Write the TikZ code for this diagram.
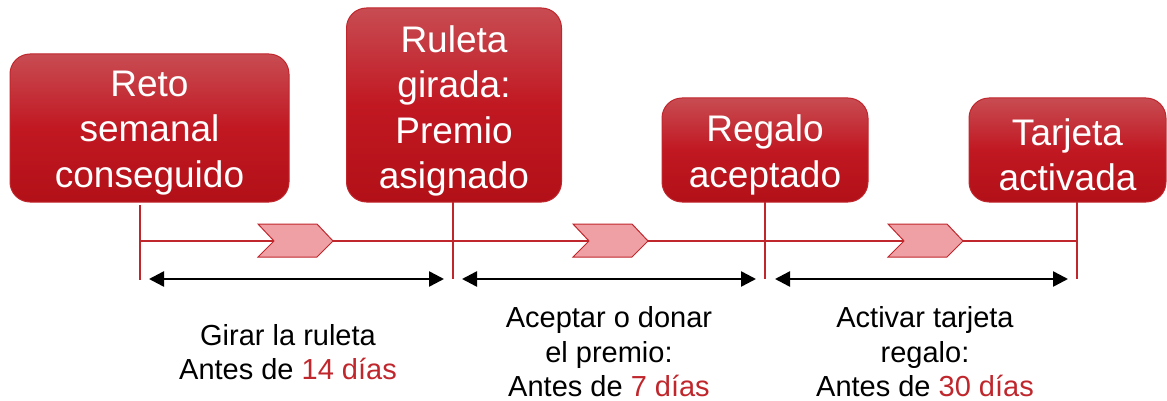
\documentclass[tikz,border=0pt]{standalone}
\usepackage{fontspec}
\setmainfont{Liberation Sans}
\usetikzlibrary{arrows.meta}
\definecolor{lred}{RGB}{192,39,45}
\definecolor{chev}{RGB}{238,160,164}
\definecolor{btop}{RGB}{200,76,82}
\definecolor{bmid}{RGB}{193,24,34}
\definecolor{bbot}{RGB}{178,16,24}
\tikzset{
  evbox/.style={rounded corners=20pt, draw=lred, line width=1pt, top color=btop, bottom color=bbot, middle color=bmid, inner sep=0pt},
  evtext/.style={text=white, align=center, inner sep=0pt, font=\fontsize{37}{45.5}\selectfont},
  tline/.style={draw=lred, line width=2pt},
  span/.style={{Triangle[length=15pt,width=15pt]}-{Triangle[length=15pt,width=15pt]}, line width=2.5pt, black},
  lbl/.style={align=center, font=\fontsize{29}{34.5}\selectfont, inner sep=0pt},
  chevshape/.style={fill=chev, draw=lred, line width=1pt, line join=miter}
}
\newcommand{\rd}[1]{\textcolor{lred}{#1}}
\begin{document}
\begin{tikzpicture}[x=1pt,y=-1pt]
\useasboundingbox (0,0) rectangle (1167,401);
% boxes
\node[evbox, minimum width=279pt, minimum height=148pt] (e1) at (149.5,128) {};
\node[evbox, minimum width=215pt, minimum height=194pt] (e2) at (454,105) {};
\node[evbox, minimum width=206pt, minimum height=104pt] (e3) at (765,150) {};
\node[evbox, minimum width=197pt, minimum height=104pt] (e4) at (1067.5,150) {};
\node[evtext] (e1t) at ([yshift=-5pt]e1.center) {Reto\\semanal\\conseguido};
\node[evtext] (e2t) at ([yshift=-6pt]e2.center) {Ruleta\\girada:\\Premio\\asignado};
\node[evtext] (e3t) at ([yshift=-5pt]e3.center) {Regalo\\aceptado};
\node[evtext] (e4t) at ([yshift=-5pt]e4.center) {Tarjeta\\activada};
% tick coordinates
\coordinate (t1) at (140,205); \coordinate (b1) at (140,280); \coordinate (m1) at (140,241);
\coordinate (t2) at (453,202); \coordinate (b2) at (453,279); \coordinate (m2) at (453,241);
\coordinate (t3) at (765,202); \coordinate (b3) at (765,279); \coordinate (m3) at (765,241);
\coordinate (t4) at (1077,202); \coordinate (b4) at (1077,279); \coordinate (m4) at (1077,241);
\draw[tline] (t1) -- (b1);
\draw[tline] (t2) -- (b2);
\draw[tline] (t3) -- (b3);
\draw[tline] (t4) -- (b4);
\draw[tline] (m1) -- (m4);
% chevrons
\foreach \cx in {258, 573, 888} {
  \draw[chevshape] (\cx,224) -- (\cx+59,224) -- (\cx+75,241) -- (\cx+59,257) -- (\cx,257) -- (\cx+16,241) -- cycle;
}
% spans
\coordinate (s1a) at (149,279); \coordinate (s1b) at (444,279);
\coordinate (s2a) at (462,279); \coordinate (s2b) at (756,279);
\coordinate (s3a) at (775,279); \coordinate (s3b) at (1068,279);
\draw[span] (s1a) -- (s1b);
\draw[span] (s2a) -- (s2b);
\draw[span] (s3a) -- (s3b);
% labels
\node[lbl] (l1) at (288,352) {Girar la ruleta\\Antes de \rd{14 días}};
\node[lbl] (l2) at (609,352) {Aceptar o donar\\el premio:\\Antes de \rd{7 días}};
\node[lbl] (l3) at (925,352) {Activar tarjeta\\regalo:\\Antes de \rd{30 días}};
\end{tikzpicture}
\end{document}
